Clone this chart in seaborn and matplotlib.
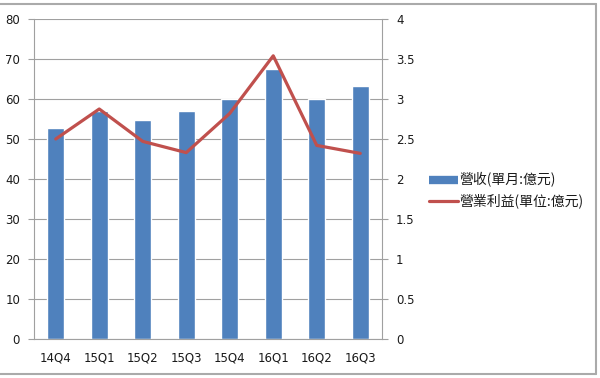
import matplotlib
matplotlib.use("Agg")
import matplotlib.pyplot as plt
from matplotlib.lines import Line2D
import seaborn as sns
import pandas as pd

quarters = ["14Q4", "15Q1", "15Q2", "15Q3", "15Q4", "16Q1", "16Q2", "16Q3"]
revenue = [52.8, 57.1, 54.8, 57.1, 59.9, 67.6, 59.9, 63.3]
op_profit = [2.50, 2.875, 2.47, 2.33, 2.82, 3.54, 2.42, 2.32]
label_rev = "營收(單月:億元)"
label_op = "營業利益(單位:億元)"

sns.set_style("white")
plt.rcParams['font.family'] = ['Noto Sans CJK TC', 'DejaVu Sans']

df = pd.DataFrame({"q": quarters, "rev": revenue, "op": op_profit})

fig = plt.figure(figsize=(6, 3.78), dpi=100)
ax = fig.add_axes([34/600, 1-339/378, (382-34)/600, (339-19)/378])
ax2 = ax.twinx()

sns.barplot(data=df, x="q", y="rev", ax=ax, color="#4F81BD", saturation=1, width=0.39)
sns.lineplot(data=df, x="q", y="op", ax=ax2, color="#C0504D", linewidth=2.3, sort=False)

ax.set_xlim(-0.5, 7.5)
ax.set_ylim(0, 80)
ax.set_yticks(range(0, 81, 10))
ax2.set_ylim(0, 4)
ax2.set_yticks([0, 0.5, 1, 1.5, 2, 2.5, 3, 3.5, 4])
ax2.set_yticklabels(["0", "0.5", "1", "1.5", "2", "2.5", "3", "3.5", "4"])
ax.set_xlabel("")
ax.set_ylabel("")
ax2.set_ylabel("")

ax.grid(axis="y", color="#A0A0A0", linewidth=0.8)
ax.set_axisbelow(True)
for a in (ax, ax2):
    for s in a.spines.values():
        s.set_visible(False)
ax.spines["left"].set_visible(True)
ax.spines["left"].set_color("#A0A0A0")
ax.spines["bottom"].set_visible(True)
ax.spines["bottom"].set_color("#A0A0A0")
ax2.spines["right"].set_visible(True)
ax2.spines["right"].set_color("#A0A0A0")

ax.set_xticks(range(len(quarters)))
ax.set_xticklabels(quarters)
ax.tick_params(axis="x", length=0, pad=9)
ax.set_xticks([i + 0.5 for i in range(-1, 8)], minor=True)
ax.tick_params(axis="x", which="minor", length=4, color="#A0A0A0", direction="out")
ax.tick_params(axis="y", length=4, color="#A0A0A0", pad=6, left=True)
ax2.tick_params(axis="y", length=4, color="#A0A0A0", pad=6, right=True)
for lbl in ax.get_yticklabels() + ax2.get_yticklabels() + ax.get_xticklabels():
    lbl.set_color("#1a1a1a")
    lbl.set_fontfamily("DejaVu Sans")
    lbl.set_fontsize(8.5)

handles = [Line2D([0], [0], color="#4F81BD", linewidth=6, solid_capstyle="butt"),
           Line2D([0], [0], color="#C0504D", linewidth=2.3)]
fig.legend(handles, [label_rev, label_op], loc="upper left",
           bbox_to_anchor=(416/600, 1-160/378), frameon=False, fontsize=10,
           handlelength=2.1, handletextpad=0.15, labelspacing=0.45,
           labelcolor="#1a1a1a")

border = dict(color="#AAAAAA", linewidth=1.5, transform=fig.transFigure)
fig.add_artist(Line2D([0, 596/600], [1-4/378, 1-4/378], **border))
fig.add_artist(Line2D([596/600, 596/600], [1-4/378, 1-374/378], **border))
fig.add_artist(Line2D([0, 596/600], [1-374/378, 1-374/378], **border))

fig.savefig("out.png", dpi=100)
